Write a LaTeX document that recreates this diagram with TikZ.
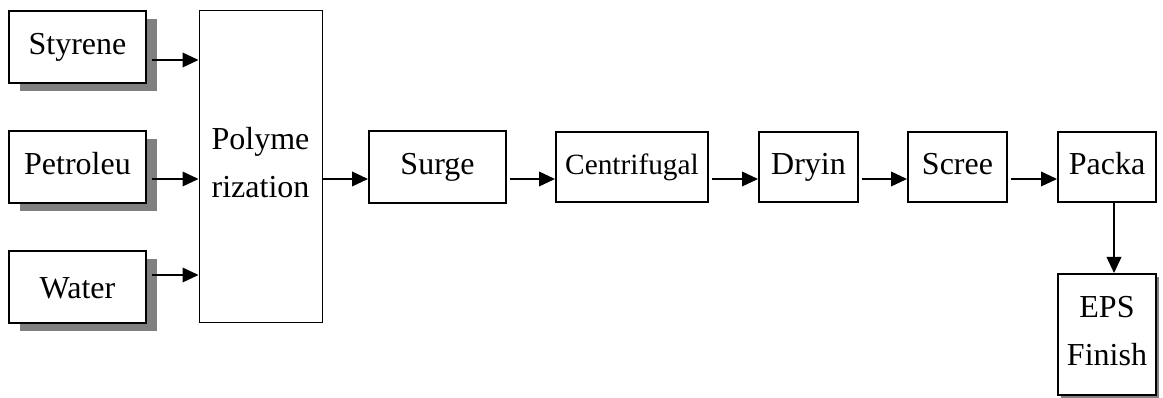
\documentclass[tikz,border=0pt]{standalone}
\usepackage{fontspec}
\setmainfont{Liberation Serif}
\usetikzlibrary{arrows.meta,shadows,calc}
\begin{document}
\begin{tikzpicture}[x=0.75pt,y=-0.75pt,
        box/.style={draw,fill=white,line width=1.5pt,inner sep=0pt,align=center,font=\fontsize{24}{36}\selectfont},
        oneline/.style={text height=17pt,text depth=6pt},
        twoline/.style={text height=52.5pt,text depth=6.5pt},
        shadowbox/.style={box,drop shadow={shadow xshift=8pt,shadow yshift=-6pt,fill=gray,opacity=1}},
        flow/.style={line width=1.2pt,-{Triangle[length=12pt,width=11pt]}}]
        \useasboundingbox (0,0) rectangle (1163,398);
        \node[shadowbox,oneline,minimum width=102.75pt,minimum height=54pt] (styr) at (77.5,47) {Styrene};
        \node[shadowbox,oneline,minimum width=102.75pt,minimum height=54pt] (petr) at (77.5,167) {Petroleu};
        \node[shadowbox,text height=18pt,text depth=0pt,minimum width=102.75pt,minimum height=54pt] (water) at (77.5,287) {Water};
        \node[box,twoline,line width=0.75pt,minimum width=92.25pt,minimum height=234pt] (poly) at (260.5,167) {Polyme\\rization};
        \node[box,oneline,minimum width=102.75pt,minimum height=54pt] (surge) at (437.5,167) {Surge};
        \node[box,oneline,font=\fontsize{22}{33}\selectfont,minimum width=114pt,minimum height=52.5pt] (cent) at (632,167) {Centrifugal};
        \node[box,oneline,minimum width=74.25pt,minimum height=52.5pt] (dry) at (808.5,167) {Dryin};
        \node[box,oneline,minimum width=74.25pt,minimum height=52.5pt] (scree) at (957.5,167) {Scree};
        \node[box,oneline,minimum width=73.5pt,minimum height=52.5pt] (packa) at (1107,167) {Packa};
        \node[box,twoline,drop shadow={shadow xshift=2pt,shadow yshift=-2pt,fill=gray,opacity=1},minimum width=73.5pt,minimum height=90.75pt] (eps) at (1107,334.5) {EPS\\Finish};
        \draw[flow] ($(styr.east)+(5,13)$) -- ($(styr.east -| poly.west)+(0,13)$);
        \draw[flow] ($(petr.east)+(5,12)$) -- ($(petr.east -| poly.west)+(0,12)$);
        \draw[flow] ($(water.east)+(5,-12)$) -- ($(water.east -| poly.west)+(0,-12)$);
        \draw[flow] ($(poly.east)+(0,12)$) -- ($(surge.west)+(0,12)$);
        \draw[flow] ($(surge.east)+(3,12)$) -- ($(cent.west)+(0,12)$);
        \draw[flow] ($(cent.east)+(3,12)$) -- ($(dry.west)+(0,12)$);
        \draw[flow] ($(dry.east)+(3,12)$) -- ($(scree.west)+(0,12)$);
        \draw[flow] ($(scree.east)+(3,12)$) -- ($(packa.west)+(0,12)$);
        \draw[flow] ($(packa.south)+(7,0)$) -- ($(eps.north)+(7,0)$);
    \end{tikzpicture}
\end{document}
